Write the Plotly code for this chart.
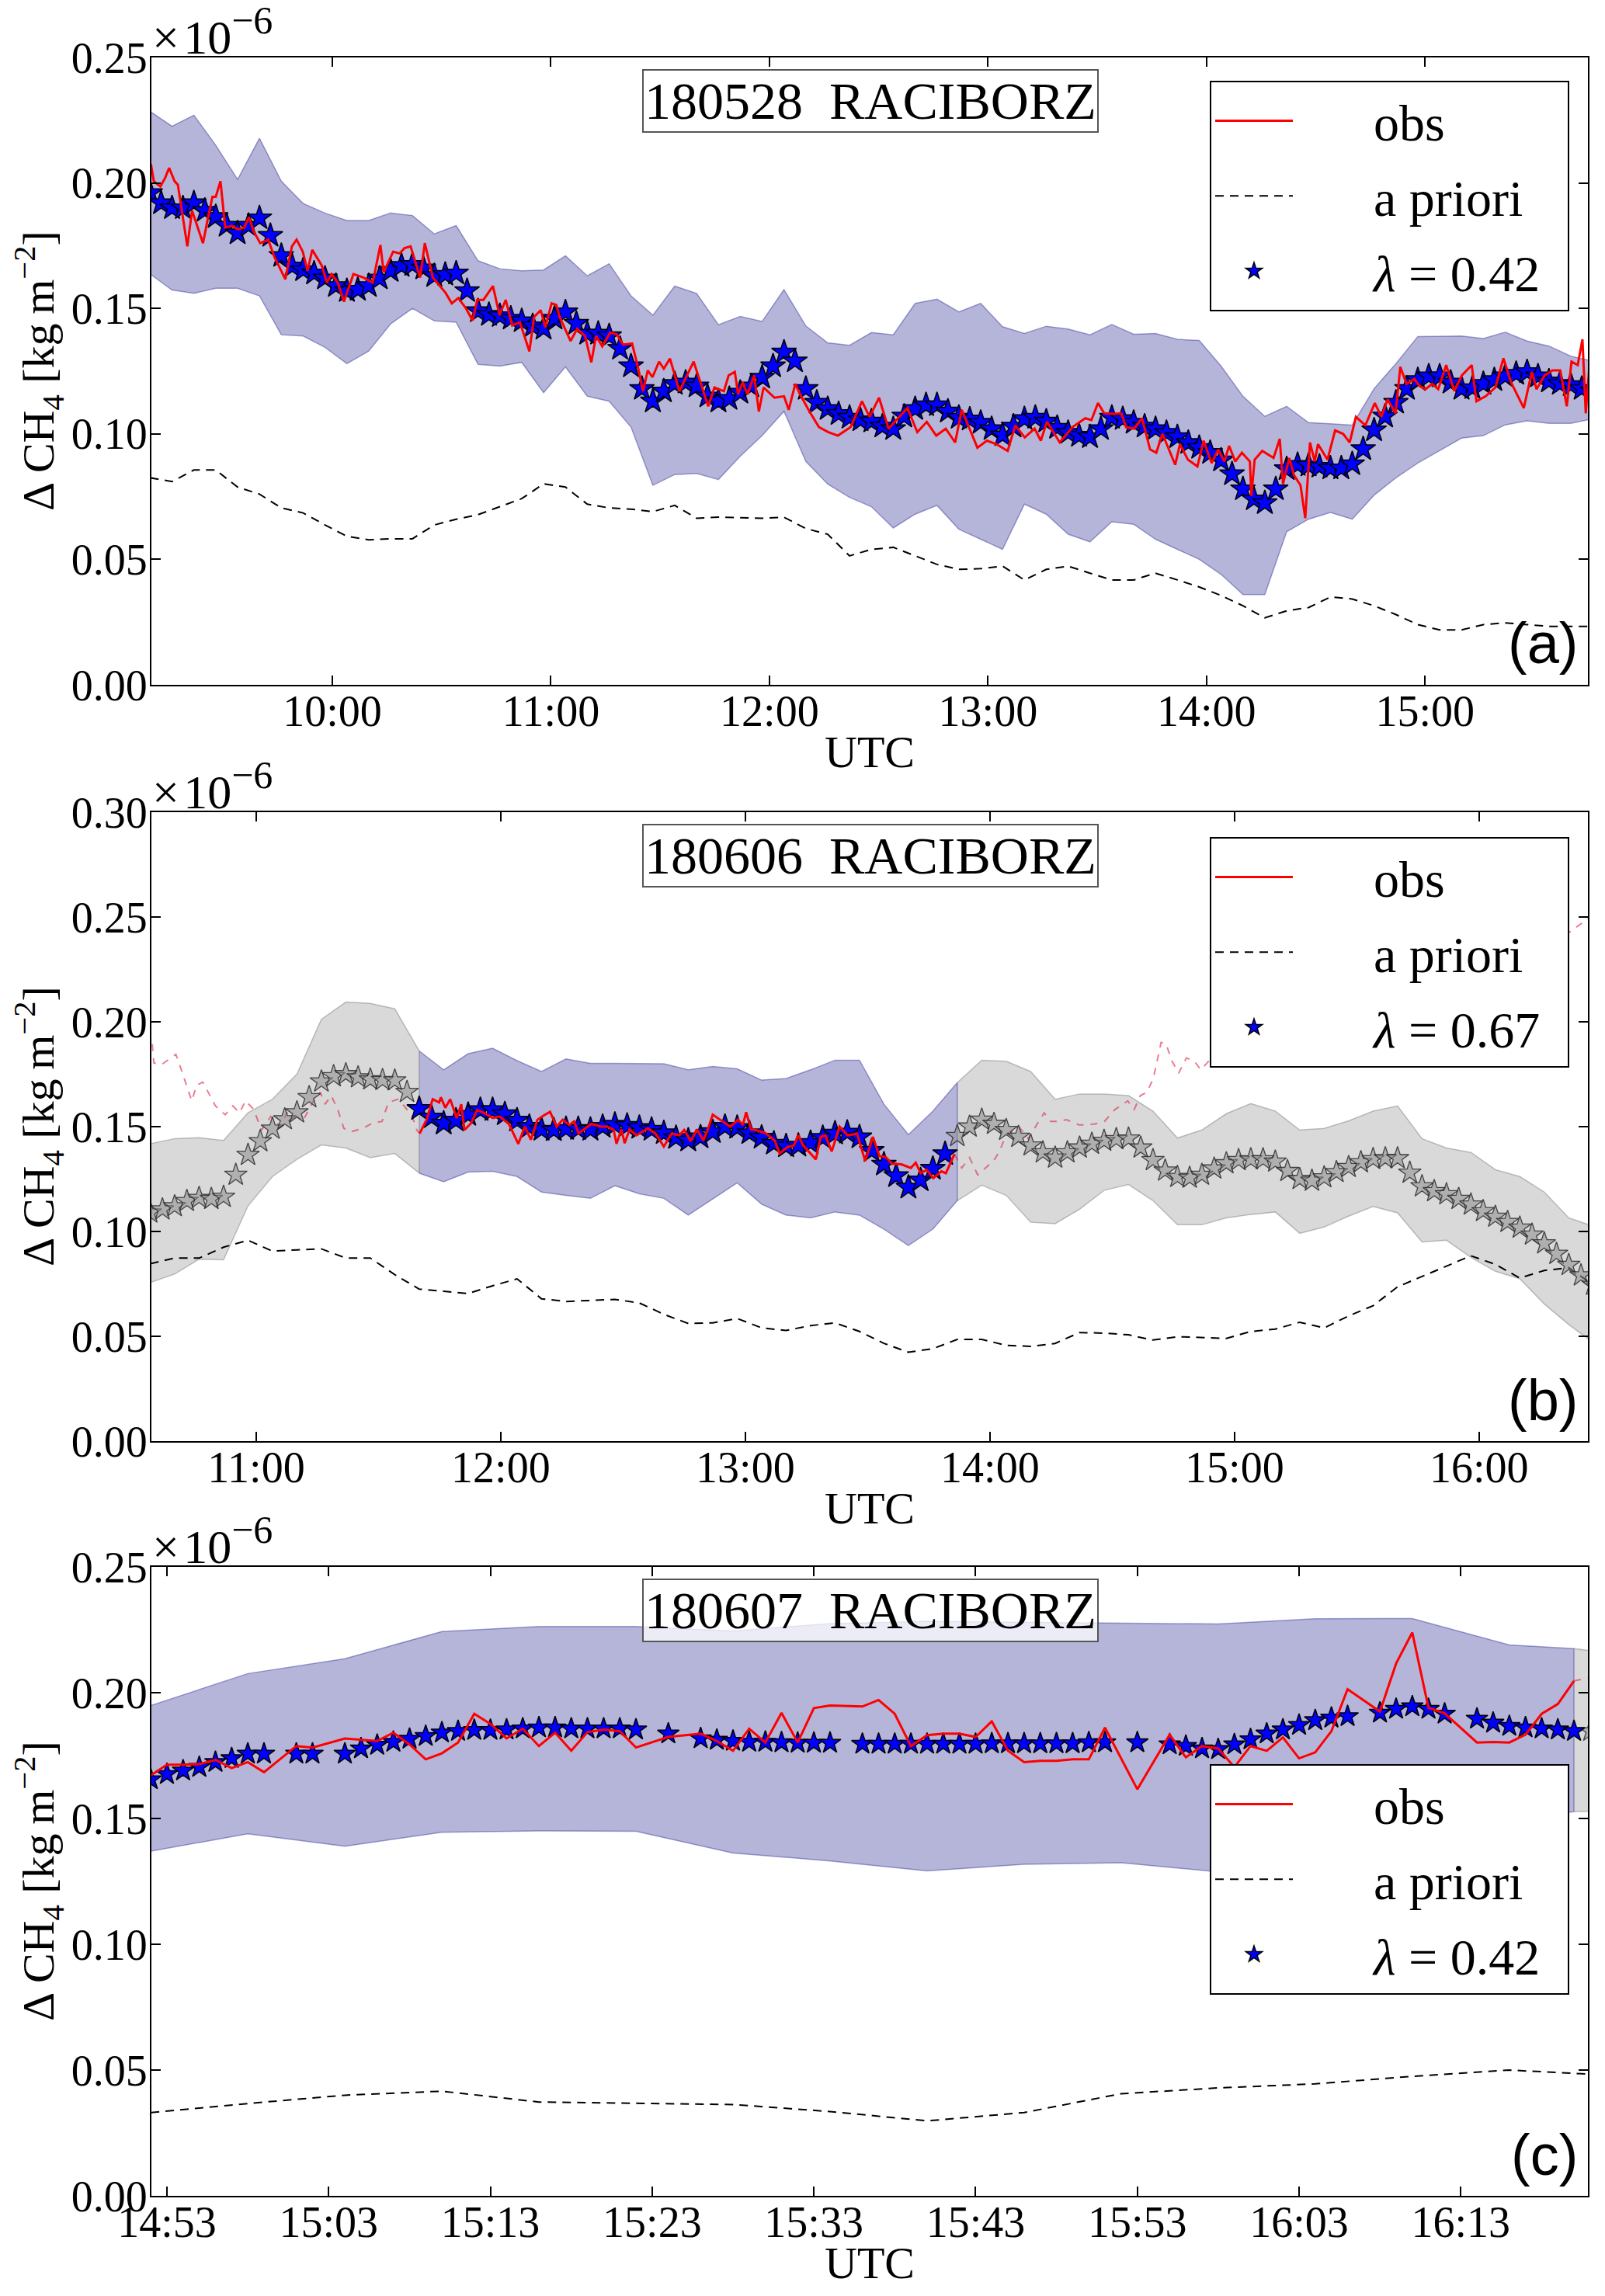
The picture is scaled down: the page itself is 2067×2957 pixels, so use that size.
import numpy as np
import pandas as pd
import plotly.graph_objects as go

# values are in units of 1e-6 kg m-2 ; times are minutes after the base hour of each day

# ---------------- (a) 180528, minutes after 09:00 ----------------
t_a6 = list(range(10, 407, 6))
t_a3 = list(range(10, 407, 3))
upper_a = [0.2285, 0.2226, 0.227, 0.215, 0.2014, 0.2178, 0.2007, 0.1918, 0.188, 0.185,
           0.185, 0.188, 0.187, 0.1797, 0.183, 0.169, 0.1658, 0.165, 0.1653, 0.171,
           0.163, 0.1678, 0.155, 0.1473, 0.1589, 0.156, 0.1435, 0.1468, 0.1448, 0.1575,
           0.143, 0.1363, 0.1353, 0.1404, 0.1395, 0.152, 0.1537, 0.1486, 0.152, 0.1427,
           0.140, 0.1429, 0.1418, 0.1395, 0.1436, 0.1397, 0.140, 0.1377, 0.1372, 0.127,
           0.115, 0.107, 0.111, 0.1045, 0.104, 0.1035, 0.118, 0.128, 0.1388, 0.1388,
           0.139, 0.138, 0.1405, 0.137, 0.135, 0.131, 0.129]
lower_a = [0.1637, 0.1573, 0.156, 0.158, 0.158, 0.155, 0.1395, 0.139, 0.1345, 0.128,
           0.133, 0.1438, 0.150, 0.145, 0.1445, 0.1277, 0.127, 0.1285, 0.1164, 0.1267,
           0.115, 0.113, 0.1027, 0.0795, 0.0838, 0.0842, 0.0818, 0.0911, 0.0993, 0.109,
           0.089, 0.080, 0.0747, 0.071, 0.0625, 0.068, 0.0715, 0.062, 0.058, 0.054,
           0.072, 0.068, 0.060, 0.057, 0.065, 0.064, 0.058, 0.054, 0.050, 0.044,
           0.036, 0.036, 0.061, 0.066, 0.0687, 0.066, 0.0756, 0.0825, 0.0884, 0.0933,
           0.0983, 0.0993, 0.1036, 0.1052, 0.1042, 0.1042, 0.106]
prior_a = [0.0825, 0.081, 0.0856, 0.0856, 0.0788, 0.076, 0.0705, 0.0685, 0.0637, 0.0592,
           0.0578, 0.0582, 0.0582, 0.0637, 0.066, 0.0678, 0.071, 0.0742, 0.0801, 0.0788,
           0.072, 0.0705, 0.070, 0.069, 0.0715, 0.0664, 0.0668, 0.0666, 0.0664, 0.0668,
           0.0623, 0.060, 0.0514, 0.054, 0.0548, 0.0514, 0.048, 0.046, 0.0463, 0.0473,
           0.0418, 0.046, 0.0473, 0.0445, 0.0418, 0.0418, 0.0445, 0.0418, 0.039, 0.0356,
           0.0315, 0.0267, 0.0295, 0.0308, 0.035, 0.0342, 0.0315, 0.028, 0.024, 0.0219,
           0.0219, 0.024, 0.0247, 0.024, 0.0233, 0.0233, 0.0233]
retr_a = [0.196, 0.192, 0.190, 0.190, 0.192, 0.189, 0.1865, 0.183, 0.180, 0.183,
          0.186, 0.179, 0.171, 0.1668, 0.1653, 0.164, 0.162, 0.159, 0.157, 0.1575,
          0.159, 0.162, 0.165, 0.167, 0.1674, 0.166, 0.163, 0.1635, 0.164, 0.157,
          0.149, 0.1475, 0.147, 0.146, 0.145, 0.143, 0.142, 0.146, 0.1485, 0.144,
          0.140, 0.140, 0.139, 0.134, 0.127, 0.118, 0.113, 0.117, 0.120, 0.1205,
          0.119, 0.115, 0.113, 0.114, 0.1165, 0.119, 0.1225, 0.127, 0.1325, 0.129,
          0.118, 0.1125, 0.110, 0.108, 0.1065, 0.1055, 0.105, 0.103, 0.102, 0.107,
          0.110, 0.1115, 0.1115, 0.109, 0.1065, 0.1058, 0.1045, 0.102, 0.0995, 0.103,
          0.106, 0.1065, 0.105, 0.1025, 0.1005, 0.0993, 0.0988, 0.102, 0.1065, 0.106,
          0.1045, 0.103, 0.102, 0.1005, 0.0988, 0.0965, 0.0945, 0.0925, 0.0895, 0.084,
          0.078, 0.074, 0.0725, 0.078, 0.086, 0.0877, 0.0875, 0.087, 0.0863, 0.0863,
          0.088, 0.094, 0.1015, 0.107, 0.1125, 0.118, 0.1215, 0.123, 0.123, 0.1205,
          0.118, 0.1183, 0.120, 0.1215, 0.123, 0.124, 0.1247, 0.123, 0.121, 0.120,
          0.1195, 0.118, 0.117]
obs_a_min = [10.2, 11.0, 12.8, 14.1, 15.2, 16.7, 17.6, 20.2, 21.5, 24.5,
             25.8, 27.1, 28.0, 29.3, 30.6, 32.4, 34.1, 35.8, 37.1, 38.4,
             40.2, 42.4, 44.1, 47.1, 48.9, 50.2, 51.9, 53.2, 54.5, 57.1,
             58.5, 59.8, 61.5, 63.2, 65.8, 68.5, 71.1, 73.2, 74.1, 76.7,
             78.5, 79.8, 81.5, 84.1, 85.4, 87.6, 91.1, 92.8, 94.6, 96.7,
             98.5, 99.8, 101.5, 104.1, 105.9, 107.6, 109.4, 111.5, 114.1, 115.4,
             117.2, 118.5, 120.2, 121.5, 122.4, 125.4, 127.2, 129.4, 131.1, 132.4,
             134.1, 136.3, 138.1, 139.8, 142.3, 144.0, 145.3, 146.6, 147.9, 149.7,
             151.0, 152.7, 155.3, 159.2, 163.2, 164.9, 167.5, 168.8, 170.5, 171.4,
             172.7, 174.0, 175.8, 177.1, 178.4, 181.4, 184.0, 185.3, 187.1, 188.4,
             191.0, 193.6, 196.2, 198.8, 202.3, 205.4, 207.5, 210.1, 212.7, 214.9,
             217.9, 220.6, 223.2, 225.8, 228.4, 231.0, 232.8, 237.1, 239.7, 242.3,
             245.4, 247.5, 250.1, 252.8, 254.5, 256.2, 259.7, 263.2, 266.7, 268.4,
             270.2, 271.9, 274.9, 276.6, 277.9, 280.1, 282.3, 284.5, 286.2, 287.9,
             291.4, 292.7, 294.9, 297.5, 299.2, 301.4, 303.2, 304.9, 306.2, 307.9,
             309.7, 311.9, 312.3, 313.2, 315.3, 318.4, 320.1, 321.0, 322.7, 324.0,
             325.8, 327.1, 328.4, 329.7, 330.6, 333.2, 335.3, 337.5, 339.3, 341.0,
             343.6, 346.2, 348.0, 349.7, 351.9, 353.2, 354.9, 357.1, 358.4, 360.1,
             361.9, 363.6, 365.8, 368.0, 370.1, 372.8, 374.1, 376.7, 379.3, 381.5,
             383.6, 387.1, 389.3, 390.6, 392.8, 395.0, 397.1, 398.9, 400.2, 401.9,
             403.2, 404.1, 405.0]
obs_a_val = [0.2075, 0.2007, 0.1986, 0.202, 0.206, 0.2007, 0.1993, 0.1747, 0.189, 0.176,
             0.1856, 0.1945, 0.1945, 0.2007, 0.1822, 0.1829, 0.1815, 0.1822, 0.1863, 0.1808,
             0.176, 0.1774, 0.1705, 0.1616, 0.1747, 0.1774, 0.1726, 0.165, 0.1733, 0.1671,
             0.1603, 0.1637, 0.1603, 0.1527, 0.1637, 0.1623, 0.1603, 0.1753, 0.1644, 0.1726,
             0.1719, 0.174, 0.1747, 0.1623, 0.176, 0.1623, 0.1562, 0.152, 0.1541, 0.150,
             0.1452, 0.1534, 0.1534, 0.1589, 0.1473, 0.1534, 0.1432, 0.1445, 0.1329, 0.1466,
             0.1493, 0.1425, 0.152, 0.1514, 0.1466, 0.137, 0.1418, 0.139, 0.1285, 0.139,
             0.1349, 0.1404, 0.1397, 0.1356, 0.136, 0.126, 0.117, 0.1253, 0.1226, 0.1288,
             0.126, 0.130, 0.117, 0.1288, 0.111, 0.1185, 0.117, 0.1233, 0.1247, 0.1158,
             0.1205, 0.1158, 0.1233, 0.1089, 0.1185, 0.1144, 0.115, 0.1096, 0.1199, 0.1158,
             0.1089, 0.1027, 0.1007, 0.0993, 0.1027, 0.113, 0.1068, 0.1144, 0.1021, 0.1055,
             0.1103, 0.1007, 0.1048, 0.0993, 0.1021, 0.0966, 0.1096, 0.0945, 0.0973, 0.0959,
             0.0932, 0.1034, 0.0986, 0.1021, 0.0973, 0.1048, 0.0966, 0.1027, 0.1062, 0.1055,
             0.1123, 0.1082, 0.108, 0.1082, 0.1027, 0.1021, 0.1062, 0.0938, 0.0925, 0.100,
             0.0877, 0.0959, 0.0897, 0.087, 0.0973, 0.0884, 0.0938, 0.089, 0.0952, 0.089,
             0.0925, 0.089, 0.0753, 0.0897, 0.0932, 0.0904, 0.098, 0.080, 0.0904, 0.0836,
             0.0795, 0.0664, 0.0966, 0.089, 0.0959, 0.0897, 0.1014, 0.100, 0.0966, 0.1068,
             0.1034, 0.1123, 0.1068, 0.1137, 0.1082, 0.1267, 0.1199, 0.1219, 0.1192, 0.1178,
             0.1199, 0.1178, 0.1274, 0.1171, 0.1233, 0.1274, 0.113, 0.1151, 0.1185, 0.1301,
             0.1205, 0.1103, 0.1247, 0.1178, 0.1233, 0.1253, 0.1253, 0.111, 0.1288, 0.1274,
             0.1377, 0.1082, 0.125]

# ---------------- (b) 180606, minutes after 10:00 ----------------
t_b6 = list(range(34, 389, 6))
t_b3 = list(range(34, 389, 3))
blue_b = (100, 232)          # window of the retrieval shown in blue
upper_b = [0.1418, 0.1443, 0.1447, 0.1434, 0.1566, 0.1631, 0.1751, 0.2012, 0.2094, 0.2088,
           0.2062, 0.1861, 0.1771, 0.1848, 0.1874, 0.1815, 0.1763, 0.1823, 0.1802, 0.1802,
           0.1802, 0.180, 0.1771, 0.1787, 0.1776, 0.1722, 0.173, 0.1771, 0.1817, 0.1817,
           0.1607, 0.1462, 0.1574, 0.171, 0.1817, 0.1812, 0.1763, 0.1631, 0.1656, 0.1656,
           0.1648, 0.1574, 0.1446, 0.1484, 0.1562, 0.161, 0.1574, 0.1484, 0.1492, 0.1528,
           0.1574, 0.1599, 0.1443, 0.1398, 0.1377, 0.1295, 0.1262, 0.1188, 0.1065, 0.1025]
lower_b = [0.0756, 0.0797, 0.0868, 0.0865, 0.1122, 0.1262, 0.1344, 0.1413, 0.1398, 0.1352,
           0.1372, 0.1278, 0.1237, 0.1283, 0.1287, 0.1262, 0.1188, 0.1172, 0.1158, 0.1218,
           0.118, 0.1158, 0.1078, 0.1155, 0.1232, 0.113, 0.1078, 0.1065, 0.1093, 0.1078,
           0.1011, 0.0933, 0.1011, 0.1147, 0.1221, 0.1172, 0.1044, 0.1037, 0.1106, 0.1196,
           0.1224, 0.1147, 0.1032, 0.1032, 0.1065, 0.1081, 0.1093, 0.0991, 0.1021, 0.1073,
           0.1119, 0.1089, 0.095, 0.0958, 0.0876, 0.081, 0.0774, 0.0654, 0.0556, 0.047]
prior_b = [0.0846, 0.0873, 0.0873, 0.0925, 0.0958, 0.0906, 0.0912, 0.0917, 0.0873, 0.0873,
           0.0794, 0.0725, 0.0715, 0.0704, 0.0741, 0.0774, 0.0679, 0.0666, 0.0671, 0.0676,
           0.0659, 0.0605, 0.0561, 0.0564, 0.0585, 0.054, 0.0528, 0.0551, 0.0564, 0.0523,
           0.0466, 0.0424, 0.0441, 0.0485, 0.0485, 0.0457, 0.0452, 0.0466, 0.0518, 0.0515,
           0.0507, 0.0482, 0.0498, 0.0493, 0.049, 0.0523, 0.0534, 0.0567, 0.054, 0.0597,
           0.0646, 0.0736, 0.0786, 0.0835, 0.0884, 0.0843, 0.0778, 0.0814, 0.0827, 0.0745]
retr_b = [0.109, 0.1105, 0.112, 0.1145, 0.116, 0.1155, 0.1165, 0.127, 0.1365, 0.143,
          0.149, 0.1535, 0.1568, 0.164, 0.1715, 0.174, 0.175, 0.1735, 0.1725, 0.1722,
          0.172, 0.1665, 0.1585, 0.1545, 0.1516, 0.153, 0.1557, 0.158, 0.158, 0.156,
          0.153, 0.150, 0.1486, 0.1484, 0.149, 0.149, 0.1486, 0.150, 0.151, 0.1505,
          0.1495, 0.1486, 0.147, 0.1447, 0.1435, 0.145, 0.1475, 0.150, 0.1495, 0.147,
          0.1448, 0.142, 0.1407, 0.141, 0.1423, 0.1447, 0.1468, 0.1472, 0.145, 0.1385,
          0.132, 0.1265, 0.121, 0.1245, 0.130, 0.137, 0.1455, 0.150, 0.1533, 0.1513,
          0.1484, 0.1451, 0.141, 0.1377, 0.1352, 0.1377, 0.140, 0.1418, 0.1432, 0.144,
          0.1443, 0.140, 0.134, 0.129, 0.126, 0.1256, 0.127, 0.130, 0.1325, 0.134,
          0.1344, 0.1344, 0.1333, 0.1288, 0.125, 0.1242, 0.1258, 0.1283, 0.1307, 0.133,
          0.1345, 0.1349, 0.1349, 0.128, 0.1215, 0.1192, 0.1177, 0.1155, 0.1128, 0.1097,
          0.107, 0.1045, 0.1018, 0.0985, 0.0943, 0.0893, 0.084, 0.079, 0.0745]
obs_b_min = [100.1, 101.8, 103.3, 104.9, 105.3, 106.4, 107.6, 109.2, 110.3, 111.1,
             112.7, 114.2, 115.8, 118.1, 119.7, 122.0, 124.3, 125.9, 127.4, 129.0,
             130.5, 132.1, 133.7, 135.2, 136.8, 138.0, 139.1, 140.7, 142.2, 144.6,
             146.1, 147.7, 148.4, 149.6, 150.4, 151.6, 153.3, 156.1, 158.0, 160.0,
             161.9, 163.8, 165.0, 166.6, 168.1, 169.7, 170.9, 172.0, 174.7, 176.3,
             178.2, 179.4, 180.2, 181.4, 182.5, 184.9, 187.2, 188.4, 190.3, 191.9,
             193.0, 194.2, 197.3, 198.5, 199.6, 201.2, 203.1, 205.1, 207.4, 209.4,
             211.3, 212.9, 214.4, 216.0, 218.3, 220.6, 221.8, 223.0, 224.5, 226.1,
             228.1, 229.2, 231.3]
obs_b_val = [0.1467, 0.1533, 0.1631, 0.1615, 0.164, 0.159, 0.1631, 0.1541, 0.1607, 0.1484,
             0.1516, 0.1579, 0.1566, 0.1541, 0.1549, 0.1513, 0.1418, 0.150, 0.1438, 0.1533,
             0.1553, 0.1571, 0.150, 0.1533, 0.1508, 0.1525, 0.1467, 0.1492, 0.1513, 0.150,
             0.150, 0.1484, 0.1418, 0.1487, 0.1421, 0.1487, 0.1459, 0.1492, 0.1467, 0.1405,
             0.1467, 0.1459, 0.1484, 0.1431, 0.1487, 0.1434, 0.1492, 0.1557, 0.152, 0.150,
             0.1533, 0.1508, 0.1569, 0.1487, 0.1484, 0.147, 0.1434, 0.1372, 0.1402, 0.141,
             0.1459, 0.141, 0.1344, 0.1451, 0.1459, 0.1382, 0.150, 0.1459, 0.1467, 0.1336,
             0.1451, 0.1359, 0.1356, 0.1323, 0.132, 0.1303, 0.1328, 0.1278, 0.1294, 0.1254,
             0.1287, 0.1278, 0.1369]
# observations outside the fitted window (faded, dashed)
obs_b_out_min = [34.5, 34.9, 36.8, 40.3, 41.5, 43.4, 44.2, 45.4, 46.9, 50.0,
                 52.4, 54.3, 55.9, 57.4, 59.4, 61.3, 63.6, 66.0, 67.5, 69.9,
                 71.4, 73.8, 75.7, 76.9, 78.4, 80.0, 81.5, 83.1, 86.2, 88.5,
                 90.9, 92.4, 93.6, 94.8, 96.3, 98.3, 99.4, 100.1, 165.0, 231.3,
                 233.1, 235.0, 237.0, 238.9, 240.9, 242.4, 243.6, 244.8, 247.1, 249.4,
                 251.8, 253.3, 254.9, 256.4, 258.8, 261.9, 263.4, 265.8, 268.1, 270.7,
                 273.8, 275.4, 276.9, 278.5, 280.1, 282.0, 283.2, 284.7, 286.3, 288.2,
                 290.2, 291.7, 292.9, 300.0, 315.0, 330.0, 345.0, 360.0, 375.0, 381.6,
                 386.6, 388.0]
obs_b_out_val = [0.1894, 0.1804, 0.1796, 0.1845, 0.1779, 0.1672, 0.1623, 0.1697, 0.1713, 0.1599,
                 0.1557, 0.1599, 0.1566, 0.1623, 0.1582, 0.1484, 0.1549, 0.150, 0.1566, 0.1549,
                 0.1525, 0.1615, 0.1664, 0.1607, 0.1648, 0.1582, 0.1492, 0.1475, 0.1492, 0.1516,
                 0.1525, 0.1615, 0.1623, 0.1631, 0.1599, 0.1549, 0.1484, 0.1467, None, 0.1369,
                 0.1303, 0.1352, 0.127, 0.1303, 0.1336, 0.1385, 0.1443, 0.1467, 0.150, 0.1443,
                 0.1516, 0.1566, 0.1525, 0.1525, 0.1533, 0.1508, 0.1508, 0.1513, 0.1525, 0.1582,
                 0.1623, 0.1582, 0.1648, 0.1664, 0.173, 0.1902, 0.1894, 0.1812, 0.1755, 0.1828,
                 0.1812, 0.1771, 0.1796, 0.195, 0.20, 0.205, 0.215, 0.225, 0.235, 0.242,
                 0.2493, 0.251]

# ---------------- (c) 180607, minutes after 14:00 ----------------
t_c6 = [52, 58, 64, 70, 76, 82, 88, 94, 100, 106, 112, 118, 124, 130, 136, 140]
upper_c = [0.1949, 0.2076, 0.2135, 0.2243, 0.2263, 0.2263, 0.2245, 0.2275, 0.2284, 0.2281,
           0.2278, 0.2273, 0.2294, 0.2295, 0.219, 0.2175]
lower_c = [0.137, 0.1439, 0.139, 0.1445, 0.1451, 0.1449, 0.1363, 0.1331, 0.1292, 0.1318,
           0.1324, 0.1288, 0.135, 0.142, 0.150, 0.1527]
t_c_grey = [140, 142]
upper_c_grey = [0.2175, 0.216]
lower_c_grey = [0.1527, 0.153]
t_c_prior = [52, 58, 64, 70, 76, 82, 88, 94, 100, 106, 112, 118, 124, 130, 136, 142]
prior_c = [0.0331, 0.0367, 0.040, 0.0416, 0.0373, 0.0367, 0.0363, 0.0335, 0.0298, 0.0331,
           0.0406, 0.0429, 0.0445, 0.0475, 0.050, 0.048]
t_c1 = list(range(52, 141))
retr_c = [0.1655, 0.1676, 0.169, 0.1704, 0.1724, 0.1739, 0.1757, 0.1757, None, 0.1757,
          0.1757, None, 0.1757, 0.1778, 0.1792, 0.1804, 0.1816, 0.1827, 0.1841, 0.1847,
          0.1851, 0.1851, 0.1853, 0.1857, 0.1861, 0.1861, 0.1857, 0.1857, 0.1857, 0.1857,
          0.1853, None, 0.1837, None, 0.1818, 0.1812, 0.1808, 0.1804, 0.1804, 0.1802,
          0.180, 0.180, 0.180, None, 0.1796, 0.1796, 0.1796, 0.1796, 0.1796, 0.1796,
          0.1796, 0.1796, 0.1798, 0.1798, 0.1798, 0.1798, 0.1798, 0.1798, 0.1802, 0.1802,
          None, 0.1802, None, 0.1794, 0.1788, 0.1778, 0.1775, 0.1794, 0.1814, 0.1837,
          0.1853, 0.1871, 0.189, 0.190, 0.1906, None, 0.192, 0.1935, 0.1945, 0.1935,
          0.1916, None, 0.1896, 0.188, 0.1867, 0.1861, 0.1857, 0.1853, 0.1847]
obs_c = [0.1671, 0.1714, 0.1714, 0.1716, 0.1733, 0.170, 0.1724, 0.1684, None, 0.1788,
         0.1782, None, 0.1818, 0.1812, 0.1808, 0.1841, 0.1794, 0.1735, 0.1759, 0.1802,
         0.1916, 0.1876, 0.1818, 0.1857, 0.1788, 0.1841, 0.1769, 0.1843, 0.1853, 0.1847,
         0.1782, None, 0.1824, None, 0.1837, 0.1808, 0.1769, 0.1857, 0.1802, 0.192,
         0.1802, 0.1939, 0.1949, None, 0.1945, 0.1971, 0.1916, 0.1788, 0.1831, 0.1837,
         0.1837, 0.1824, 0.1886, 0.1769, 0.1724, 0.1729, 0.1729, 0.1735, 0.1735, 0.1861,
         None, 0.1616, None, 0.1833, 0.1743, 0.1788, 0.1778, 0.1704, 0.1788, 0.1769,
         0.1822, 0.1739, 0.1763, 0.1847, 0.2014, None, 0.1925, 0.2116, 0.2239, 0.194,
         0.1918, None, 0.1802, 0.1804, 0.1802, 0.1833, 0.1916, 0.1955, 0.2047]
t_c_out = [140, 141]
obs_c_out = [0.2047, 0.206]
retr_c_out = [None, 0.1847]

# ---------------- layout helpers (pixel positions in the 2067x2957 page) ----------------
W, H, OFF = 2051, 2941, 8
SERIF = "Liberation Serif, Times New Roman, serif"
SANS = "Liberation Sans, Arial, sans-serif"


def px_x(x):
    return (x - OFF) / W


def px_y(y):
    return 1 - (y - OFF) / H


def tt(day, mins):
    base = pd.Timestamp(day)
    return [base + pd.Timedelta(minutes=float(m)) for m in mins]


BLUE_FILL = "rgba(0,0,128,0.29)"
BLUE_EDGE = "rgba(0,0,128,0.35)"
GREY_FILL = "rgba(128,128,128,0.30)"
GREY_EDGE = "rgba(90,90,90,0.35)"
PAD = "\u00a0" * 6

panels = [
    dict(day="2018-05-28 09:00", top=74, bottom=882, ymax=0.25, xr=(10.34, 404.7),
         title="180528\u00a0\u00a0RACIBORZ", tag="(a)", lam="0.42", leg_top=104,
         dtick=3600000, tick0="2018-05-28 00:00"),
    dict(day="2018-06-06 10:00", top=1046, bottom=1856, ymax=0.30, xr=(34.3, 386.7),
         title="180606\u00a0\u00a0RACIBORZ", tag="(b)", lam="0.67", leg_top=1078,
         dtick=3600000, tick0="2018-06-06 00:00"),
    dict(day="2018-06-07 14:00", top=2018, bottom=2828, ymax=0.25, xr=(52.04, 140.86),
         title="180607\u00a0\u00a0RACIBORZ", tag="(c)", lam="0.42", leg_top=2272,
         dtick=600000, tick0="2018-06-07 14:53"),
]

fig = go.Figure()


def band(xa, ya, day, t, up, lo, fill, edge):
    tx = tt(day, t)
    fig.add_trace(go.Scatter(x=tx + tx[::-1], y=list(up) + list(lo)[::-1], xaxis=xa, yaxis=ya,
                             fill="toself", fillcolor=fill, mode="lines",
                             line=dict(color=edge, width=1.5), showlegend=False,
                             hoverinfo="skip"))


def stars(xa, ya, day, t, v, blue, leg, show, size):
    if blue:
        mk = dict(symbol="star", size=size, color="#0000ff", line=dict(color="black", width=1.5))
    else:
        mk = dict(symbol="star", size=size, color="rgba(140,140,140,0.55)",
                  line=dict(color="rgba(45,45,45,0.85)", width=1.3))
    fig.add_trace(go.Scatter(x=tt(day, t), y=v, xaxis=xa, yaxis=ya, mode="markers", marker=mk,
                             name=PAD + "<i>\u03bb</i> = " + leg[1] + "\u00a0\u2009",
                             legend=leg[0], showlegend=show, legendrank=3, legendgroup="r"))


def prior(xa, ya, day, t, v, leg):
    fig.add_trace(go.Scatter(x=tt(day, t), y=v, xaxis=xa, yaxis=ya, mode="lines",
                             line=dict(color="black", width=2, dash="11px,8px"),
                             name=PAD + "a priori", legend=leg, legendrank=2, legendgroup="p"))


def obs(xa, ya, day, t, v, leg, show=True, gaps=False):
    fig.add_trace(go.Scatter(x=tt(day, t), y=v, xaxis=xa, yaxis=ya, mode="lines",
                             line=dict(color="#ff0000", width=3), connectgaps=gaps,
                             name=PAD + "obs", legend=leg, showlegend=show, legendrank=1,
                             legendgroup="o"))


def obs_out(xa, ya, day, t, v):
    fig.add_trace(go.Scatter(x=tt(day, t), y=v, xaxis=xa, yaxis=ya, mode="lines",
                             line=dict(color="rgba(220,40,70,0.6)", width=2, dash="9px,9px"),
                             showlegend=False, hoverinfo="skip"))


# ---- panel a
pa, pb, pc = panels
band("x", "y", pa["day"], t_a6, upper_a, lower_a, BLUE_FILL, BLUE_EDGE)
prior("x", "y", pa["day"], t_a6, prior_a, "legend")
stars("x", "y", pa["day"], t_a3, retr_a, True, ("legend", pa["lam"]), True, 24)
obs("x", "y", pa["day"], obs_a_min, obs_a_val, "legend")

# ---- panel b
ib0 = t_b6.index(blue_b[0])
ib1 = t_b6.index(blue_b[1])
band("x2", "y2", pb["day"], t_b6[:ib0 + 1], upper_b[:ib0 + 1], lower_b[:ib0 + 1], GREY_FILL, GREY_EDGE)
band("x2", "y2", pb["day"], t_b6[ib1:], upper_b[ib1:], lower_b[ib1:], GREY_FILL, GREY_EDGE)
band("x2", "y2", pb["day"], t_b6[ib0:ib1 + 1], upper_b[ib0:ib1 + 1], lower_b[ib0:ib1 + 1], BLUE_FILL, BLUE_EDGE)
prior("x2", "y2", pb["day"], t_b6, prior_b, "legend2")
obs_out("x2", "y2", pb["day"], obs_b_out_min, obs_b_out_val)
in_b = [blue_b[0] <= t < blue_b[1] for t in t_b3]
stars("x2", "y2", pb["day"], t_b3, [v if not k else None for v, k in zip(retr_b, in_b)],
      False, ("legend2", pb["lam"]), False, 22)
stars("x2", "y2", pb["day"], t_b3, [v if k else None for v, k in zip(retr_b, in_b)],
      True, ("legend2", pb["lam"]), True, 24)
obs("x2", "y2", pb["day"], obs_b_min, obs_b_val, "legend2")

# ---- panel c
band("x3", "y3", pc["day"], t_c6, upper_c, lower_c, BLUE_FILL, BLUE_EDGE)
band("x3", "y3", pc["day"], t_c_grey, upper_c_grey, lower_c_grey, GREY_FILL, GREY_EDGE)
prior("x3", "y3", pc["day"], t_c_prior, prior_c, "legend3")
obs_out("x3", "y3", pc["day"], t_c_out, obs_c_out)
stars("x3", "y3", pc["day"], t_c_out, retr_c_out, False, ("legend3", pc["lam"]), False, 21)
stars("x3", "y3", pc["day"], t_c1, retr_c, True, ("legend3", pc["lam"]), True, 21)
obs("x3", "y3", pc["day"], t_c1, obs_c, "legend3", gaps=True)

# ---- axes, legends, annotations
axis_style = dict(showline=True, linecolor="black", linewidth=2, mirror="allticks",
                  ticks="inside", ticklen=12, tickwidth=1.5, tickcolor="black",
                  showgrid=False, zeroline=False, automargin=False,
                  tickfont=dict(family=SERIF, size=56, color="black"))
annotations = []
layout = {}
for i, p in enumerate(panels):
    sfx = "" if i == 0 else str(i + 1)
    xr = tt(p["day"], p["xr"])
    layout["xaxis" + sfx] = dict(axis_style, type="date", domain=[px_x(195), px_x(2045)],
                                 anchor="y" + sfx, range=xr, tickformat="%H:%M",
                                 dtick=p["dtick"], tick0=p["tick0"], ticklabelstandoff=-16)
    layout["yaxis" + sfx] = dict(axis_style, domain=[px_y(p["bottom"]), px_y(p["top"])],
                                 anchor="x" + sfx, range=[0, p["ymax"]], dtick=0.05,
                                 tickformat=".2f", ticklabelstandoff=-8)
    layout["legend" + sfx] = dict(x=px_x(1558), y=px_y(p["leg_top"]), xanchor="left",
                                  yanchor="top", bgcolor="white", bordercolor="black",
                                  borderwidth=2, font=dict(family=SERIF, size=66, color="black"),
                                  itemwidth=100, tracegroupgap=8, traceorder="grouped")
    mid = (p["top"] + p["bottom"]) / 2
    annotations += [
        dict(text="\u00d7\u200a10<sup><span style='font-size:50px'>\u22126</span></sup>",
             x=px_x(194), y=px_y(p["top"] + 10), xanchor="left", yanchor="bottom",
             font=dict(family=SERIF, size=62)),
        dict(text="\u0394\u2009CH<sub>4</sub> [kg\u2009m<sup>\u22122</sup>]", x=px_x(50),
             y=px_y(mid), textangle=-90, xanchor="center", yanchor="middle",
             font=dict(family=SERIF, size=58)),
        dict(text="UTC", x=px_x(1120), y=px_y(p["bottom"] + 86), xanchor="center",
             yanchor="middle", font=dict(family=SERIF, size=58)),
        dict(text=p["title"], x=px_x(1121), y=px_y(p["top"] + 56), xanchor="center",
             yanchor="middle", font=dict(family=SERIF, size=68), bgcolor="rgba(255,255,255,0.75)",
             bordercolor="#555555", borderwidth=2, borderpad=1),
        dict(text=p["tag"], x=px_x(2034), y=px_y(p["bottom"] - 53), xanchor="right",
             yanchor="middle", font=dict(family=SANS, size=74)),
    ]
for a in annotations:
    a.update(xref="paper", yref="paper", showarrow=False)
    a.setdefault("font", {}).setdefault("color", "black")

fig.update_layout(width=W, height=H, margin=dict(l=0, r=0, t=0, b=0, autoexpand=False),
                  paper_bgcolor="white", plot_bgcolor="white",
                  font=dict(family=SERIF, color="black"),
                  annotations=annotations, **layout)

fig.write_html("out.html")
